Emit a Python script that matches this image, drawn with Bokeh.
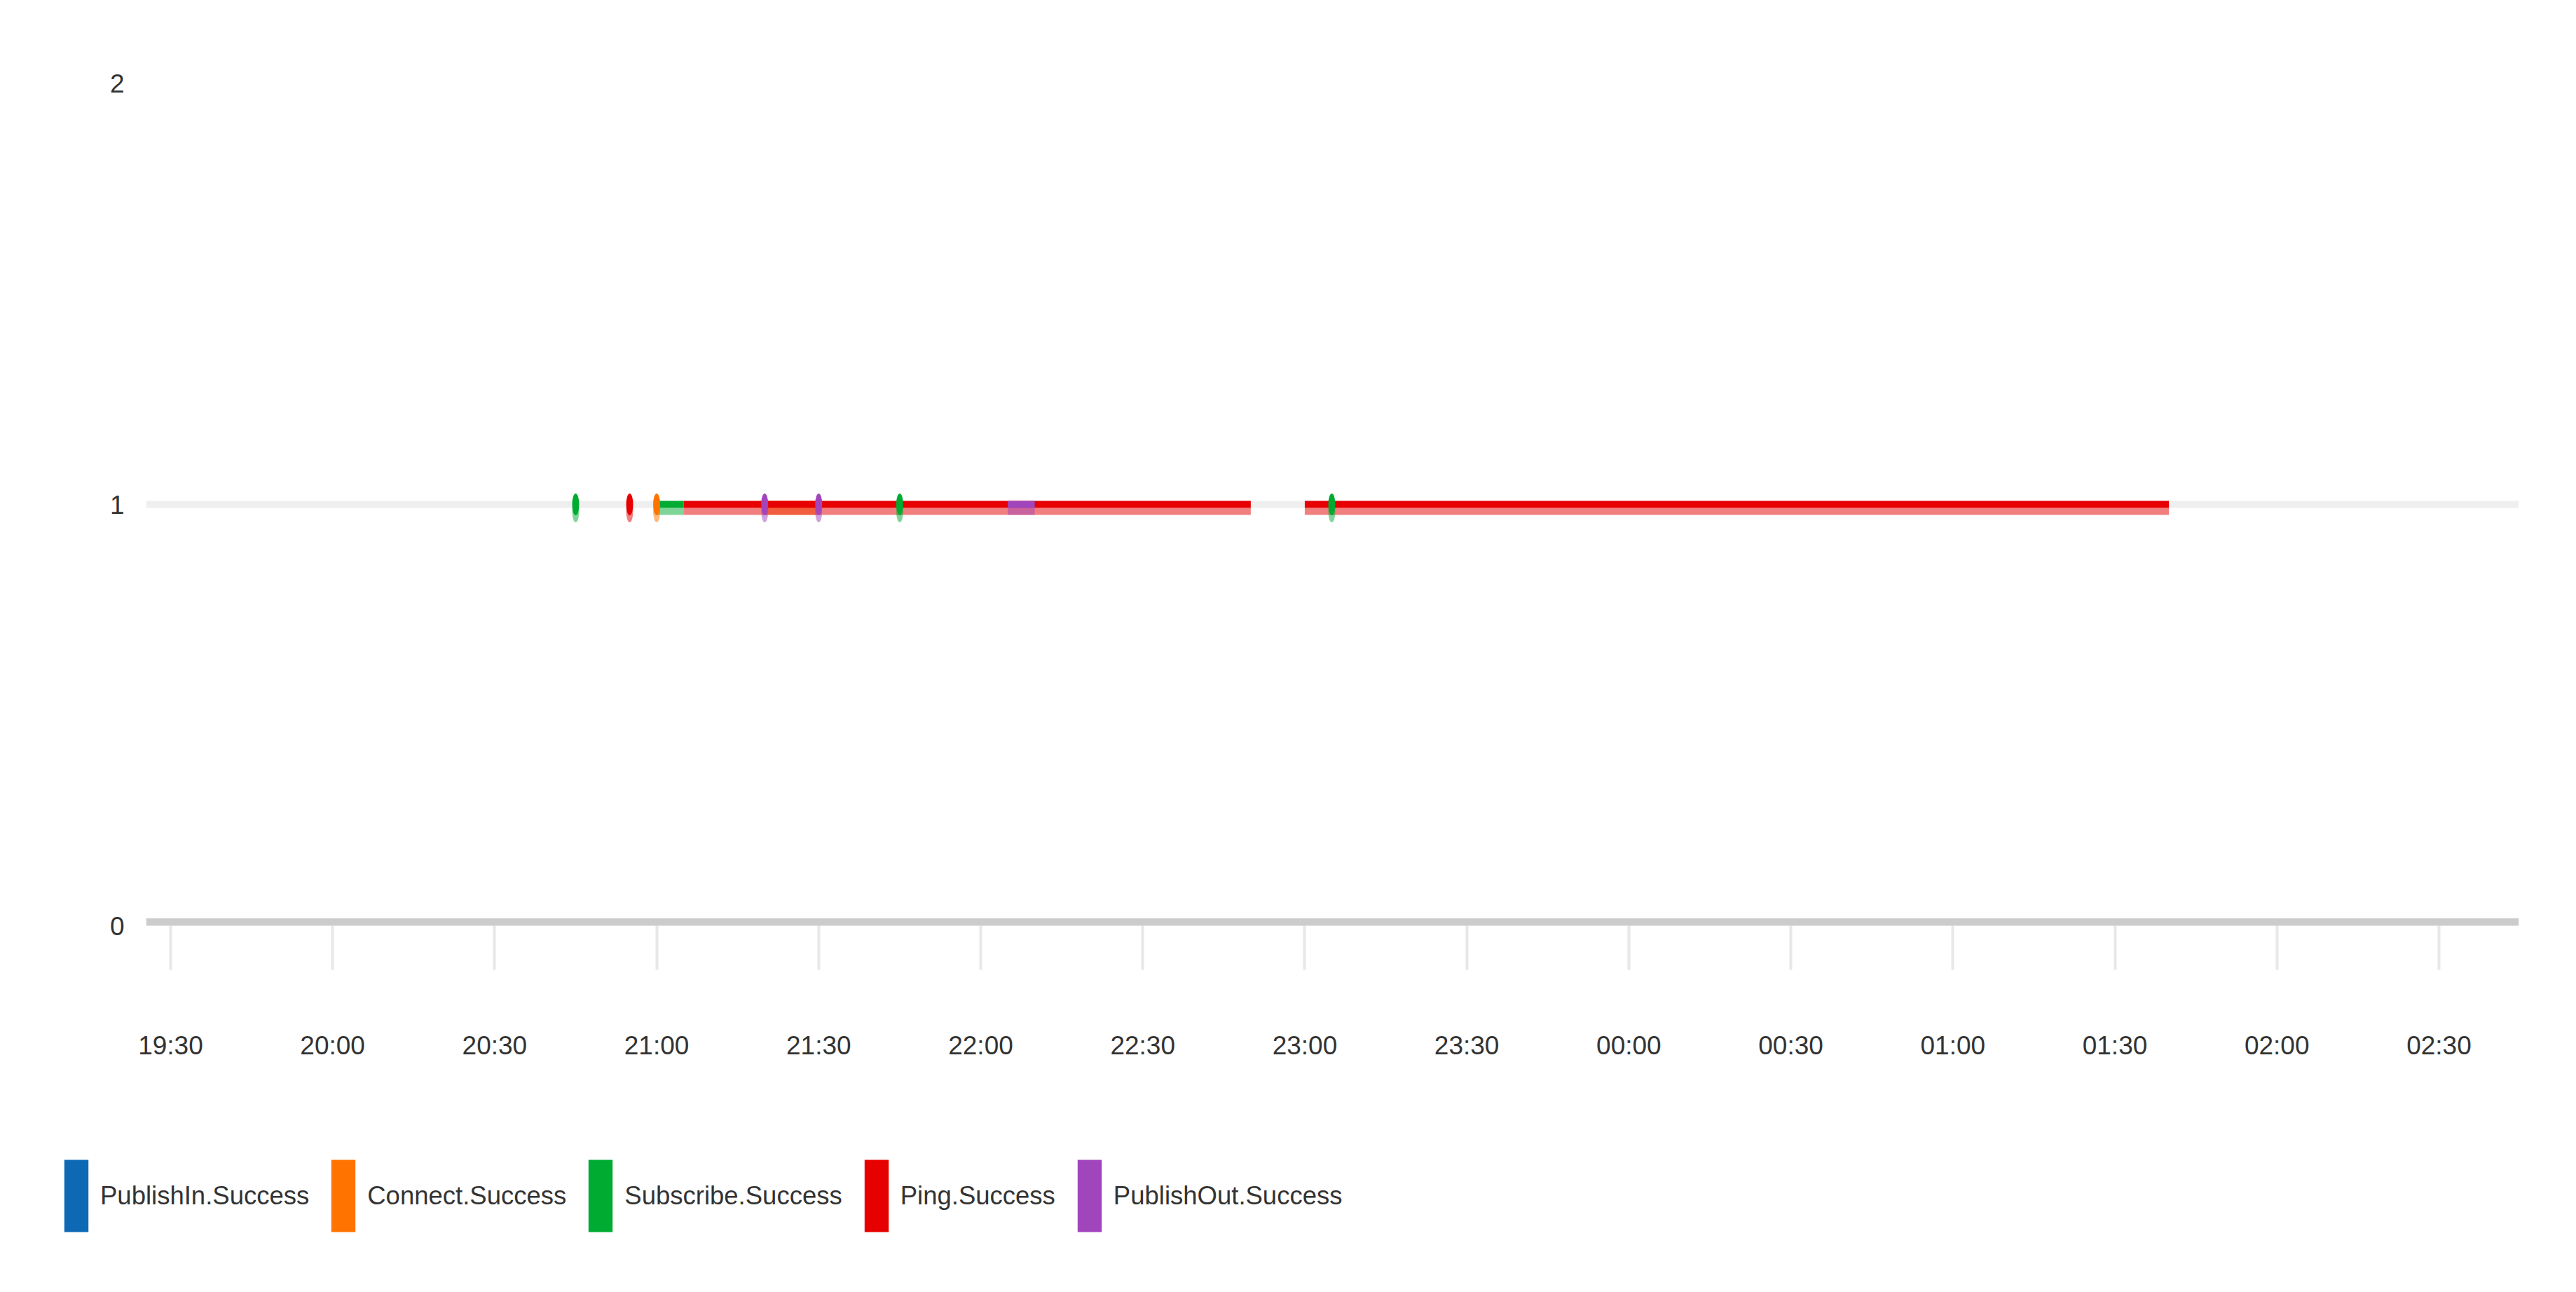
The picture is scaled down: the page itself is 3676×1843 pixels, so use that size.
import numpy as np
import pandas as pd
from bokeh.plotting import figure
from bokeh.layouts import column
from bokeh.models import (Range1d, FixedTicker, DatetimeTickFormatter, Span,
                          Legend, LegendItem, ColumnDataSource)
from bokeh.transform import dodge
from bokeh.embed import file_html
from bokeh.resources import INLINE

# ---------------- data ----------------
BASE_DAY = "2024-05-01"
X_START = "19:25:28"
X_END = "02:44:48"
Y_TICKS = [0, 1, 2]
TICK_LABELS = ["19:30", "20:00", "20:30", "21:00", "21:30", "22:00", "22:30",
               "23:00", "23:30", "00:00", "00:30", "01:00", "01:30", "02:00", "02:30"]

SERIES_NAMES = ["PublishIn.Success", "Connect.Success", "Subscribe.Success",
                "Ping.Success", "PublishOut.Success"]
SERIES_COLORS = ["#0e69b5", "#ff7400", "#00ab31", "#e60000", "#a145bc"]
VALUE = 1

# runs of consecutive non-null points (start, end); start == end -> isolated point
PUBLISHIN_RUNS = []
CONNECT_RUNS = [("21:00", "21:00"), ("21:20", "21:30")]
SUBSCRIBE_RUNS = [("20:45", "20:45"), ("21:00", "21:05"), ("21:45", "21:45"), ("23:05", "23:05")]
PING_RUNS = [("20:55", "20:55"), ("21:05", "22:50"), ("23:00", "01:40")]
PUBLISHOUT_RUNS = [("21:20", "21:20"), ("21:30", "21:30"), ("22:05", "22:10")]
SERIES_RUNS = [PUBLISHIN_RUNS, CONNECT_RUNS, SUBSCRIBE_RUNS, PING_RUNS, PUBLISHOUT_RUNS]

# ---------------- style ----------------
FONT = "Liberation Sans"
TEXT_COLOR = "#333333"
W = 3676
H_MAIN, H_LEG = 1600, 243
BORDER_L, BORDER_R, BORDER_T, BORDER_B = 208, 82, 118, 280
FRAME_H = H_MAIN - BORDER_T - BORDER_B
LINE_W = 10
SHADOW_PX = 10
SHADOW_ALPHA = 0.5
MARKER_W, MARKER_H = 10, 31
GLYPH_W, GLYPH_H = 43, 129


def to_ms(hhmm):
    t = pd.Timestamp(f"{BASE_DAY} {hhmm}")
    if t.hour < 12:
        t += pd.Timedelta(days=1)
    return t.value / 1e6


p = figure(width=W, height=H_MAIN, x_axis_type="datetime",
           x_range=Range1d(to_ms(X_START), to_ms(X_END)),
           y_range=Range1d(min(Y_TICKS), max(Y_TICKS)),
           output_backend="svg", toolbar_location=None,
           min_border_left=BORDER_L, min_border_right=BORDER_R,
           min_border_top=BORDER_T, min_border_bottom=BORDER_B)
p.frame_align = False
p.outline_line_color = None
p.background_fill_color = "white"
p.border_fill_color = "white"

p.xgrid.visible = False
p.ygrid.ticker = FixedTicker(ticks=Y_TICKS)
p.ygrid.grid_line_color = "#efefef"
p.ygrid.grid_line_width = 10

p.yaxis.ticker = FixedTicker(ticks=Y_TICKS)
p.yaxis.axis_line_color = None
p.yaxis.major_tick_line_color = None
p.yaxis.minor_tick_line_color = None
p.yaxis.major_label_standoff = 25
p.yaxis.major_label_text_font = FONT
p.yaxis.major_label_text_font_size = "37px"
p.yaxis.major_label_text_color = TEXT_COLOR

fmt = "%H:%M"
p.xaxis.ticker = FixedTicker(ticks=[to_ms(t) for t in TICK_LABELS], minor_ticks=[])
p.xaxis.formatter = DatetimeTickFormatter(
    microseconds=fmt, milliseconds=fmt, seconds=fmt, minsec=fmt, minutes=fmt,
    hourmin=fmt, hours=fmt, days=fmt, months=fmt, years=fmt,
    boundary_scaling=False)
p.xaxis.axis_line_color = None
p.xaxis.major_tick_line_color = "#e8e8e8"
p.xaxis.major_tick_line_width = 4
p.xaxis.major_tick_out = 63
p.xaxis.major_tick_in = 0
p.xaxis.minor_tick_line_color = None
p.xaxis.major_label_standoff = 87
p.xaxis.major_label_text_font = FONT
p.xaxis.major_label_text_font_size = "37px"
p.xaxis.major_label_text_color = TEXT_COLOR

# axis baseline drawn over the tick marks
p.add_layout(Span(location=min(Y_TICKS), dimension="width",
                  line_color="#cccccc", line_width=21))

shadow_dy = -SHADOW_PX * (max(Y_TICKS) - min(Y_TICKS)) / FRAME_H

# lines (with shadows), series by series
for name, color, runs in zip(SERIES_NAMES, SERIES_COLORS, SERIES_RUNS):
    xs, ys = [], []
    for a, b in runs:
        if a != b:
            xs += [to_ms(a), to_ms(b), np.nan]
            ys += [VALUE, VALUE, np.nan]
    if not xs:
        continue
    src = ColumnDataSource(dict(x=xs, y=ys))
    p.line("x", dodge("y", shadow_dy, range=p.y_range), source=src,
           line_color=color, line_alpha=SHADOW_ALPHA, line_width=LINE_W)
    p.line("x", "y", source=src, line_color=color, line_width=LINE_W)

# markers for isolated points
for name, color, runs in zip(SERIES_NAMES, SERIES_COLORS, SERIES_RUNS):
    pts = [to_ms(a) for a, b in runs if a == b]
    if not pts:
        continue
    src = ColumnDataSource(dict(x=pts, y=[VALUE] * len(pts)))
    p.ellipse("x", dodge("y", shadow_dy, range=p.y_range), source=src,
              width=MARKER_W, height=MARKER_H, width_units="screen", height_units="screen",
              fill_color=color, fill_alpha=SHADOW_ALPHA, line_color=None)
    p.ellipse("x", "y", source=src,
              width=MARKER_W, height=MARKER_H, width_units="screen", height_units="screen",
              fill_color=color, line_color=None)

# legend in its own strip below the chart
pl = figure(width=W, height=H_LEG, x_range=Range1d(0, 1), y_range=Range1d(0, 1),
            output_backend="svg", toolbar_location=None,
            x_axis_location=None, y_axis_location=None, min_border=0)
pl.frame_align = False
pl.outline_line_color = None
pl.xgrid.visible = False
pl.ygrid.visible = False
items = []
for name, color in zip(SERIES_NAMES, SERIES_COLORS):
    # swatch-only renderer: a single zero-size rect, so nothing shows in the strip itself
    src = ColumnDataSource(dict(x=[0], y=[0]))
    r = pl.rect("x", "y", source=src, width=0, height=0,
                fill_color=color, line_color=None)
    items.append(LegendItem(label=name, renderers=[r]))
legend = Legend(items=items, orientation="horizontal", location=(87, 73),
                glyph_width=GLYPH_W, glyph_height=GLYPH_H, label_standoff=13, spacing=27,
                padding=0, margin=0, border_line_color=None, background_fill_alpha=0,
                label_text_font=FONT, label_text_font_size="36.5px",
                label_text_color=TEXT_COLOR)
pl.add_layout(legend)

layout = column(p, pl, spacing=0)
open("out.html", "w").write(file_html(layout, INLINE))
